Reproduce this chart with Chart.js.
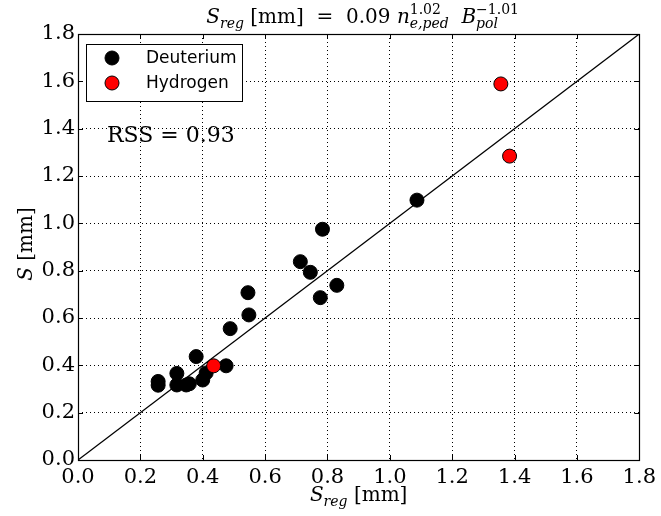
<!DOCTYPE html>
<html>
<head>
<meta charset="utf-8">
<script src="https://cdn.jsdelivr.net/npm/chart.js@4/dist/chart.umd.min.js"></script>
<style>
  body { margin: 0; background: #fff; }
  canvas { display: block; }
</style>
</head>
<body>
<canvas id="chart" width="661" height="516"></canvas>
<script>
/* Werte */
const deutX = [0.257, 0.257, 0.317, 0.317, 0.347, 0.357, 0.379, 0.400, 0.411, 0.475, 0.488, 0.545, 0.548, 0.713, 0.745, 0.777, 0.784, 0.830, 1.087];
const deutY = [0.316, 0.332, 0.366, 0.317, 0.317, 0.322, 0.437, 0.338, 0.368, 0.398, 0.555, 0.707, 0.613, 0.838, 0.793, 0.686, 0.975, 0.738, 1.098];
const hydX = [0.435, 1.356, 1.384];
const hydY = [0.398, 1.589, 1.284];
const diagLine = [0, 1.8];
const tickValues = [0, 0.2, 0.4, 0.6, 0.8, 1.0, 1.2, 1.4, 1.6, 1.8];
const seriesNames = ['Deuterium', 'Hydrogen'];
const rssText = 'RSS = 0.93';

const serif = '"DejaVu Serif", serif';
const sans = '"DejaVu Sans", sans-serif';

function toPoints(xs, ys) {
    return xs.map((x, i) => ({x: x, y: ys[i]}));
}

/* Text mit Hoch- und Tiefstellung Stück für Stück schreiben */
function drawParts(ctx, parts, x, y, measureOnly) {
    let cx = x;
    for (const p of parts) {
        if (p.sup !== undefined || p.sub !== undefined) {
            let w1 = 0, w2 = 0;
            if (p.sup !== undefined) {
                ctx.font = '14px ' + serif;
                w1 = ctx.measureText(p.sup).width;
                if (!measureOnly) ctx.fillText(p.sup, cx, y - 9);
            }
            if (p.sub !== undefined) {
                ctx.font = 'italic 14px ' + serif;
                w2 = ctx.measureText(p.sub).width;
                if (!measureOnly) ctx.fillText(p.sub, cx, y + 5);
            }
            cx += Math.max(w1, w2);
        } else {
            ctx.font = (p.it ? 'italic ' : '') + '20px ' + serif;
            if (!measureOnly) ctx.fillText(p.t, cx, y);
            cx += ctx.measureText(p.t).width;
        }
    }
    return cx - x;
}

const decorPlugin = {
    id: 'decor',
    beforeDatasetsDraw(chart) {
        /* Rahmen-Ticks nach innen */
        const ctx = chart.ctx;
        const a = chart.chartArea;
        const xs = chart.scales.x, ys = chart.scales.y;
        ctx.save();
        ctx.strokeStyle = '#000';
        ctx.lineWidth = 1;
        ctx.beginPath();
        for (const v of tickValues) {
            const px = Math.round(xs.getPixelForValue(v)) + 0.5;
            const py = Math.round(ys.getPixelForValue(v)) + 0.5;
            ctx.moveTo(px, a.bottom); ctx.lineTo(px, a.bottom - 5);
            ctx.moveTo(px, a.top); ctx.lineTo(px, a.top + 5);
            ctx.moveTo(a.left, py); ctx.lineTo(a.left + 5, py);
            ctx.moveTo(a.right, py); ctx.lineTo(a.right - 5, py);
        }
        ctx.stroke();
        ctx.restore();
    },
    afterDraw(chart) {
        const ctx = chart.ctx;
        const a = chart.chartArea;
        ctx.save();
        ctx.strokeStyle = '#000';
        ctx.lineWidth = 1.2;
        ctx.strokeRect(Math.round(a.left) + 0.5, Math.round(a.top) + 0.5,
                       Math.round(a.right - a.left), Math.round(a.bottom - a.top));

        ctx.fillStyle = '#000';
        ctx.textAlign = 'left';
        ctx.textBaseline = 'alphabetic';

        /* Titel */
        const titleParts = [
            {t: 'S', it: true}, {sub: 'reg'}, {t: ' [mm]  =  0.09 '},
            {t: 'n', it: true}, {sup: '1.02', sub: 'e,ped'}, {t: '  '},
            {t: 'B', it: true}, {sup: '\u22121.01', sub: 'pol'}
        ];
        const tw = drawParts(ctx, titleParts, 0, 0, true);
        const cxm = (a.left + a.right) / 2;
        drawParts(ctx, titleParts, cxm - tw / 2 + 4, 23, false);

        /* x-Achsentitel */
        const xParts = [{t: 'S', it: true}, {sub: 'reg'}, {t: ' [mm]'}];
        const xw = drawParts(ctx, xParts, 0, 0, true);
        drawParts(ctx, xParts, cxm - xw / 2, 501, false);

        /* y-Achsentitel */
        const yParts = [{t: 'S', it: true}, {t: ' [mm]'}];
        const yw = drawParts(ctx, yParts, 0, 0, true);
        ctx.save();
        ctx.translate(32, (a.top + a.bottom) / 2 - 3);
        ctx.rotate(-Math.PI / 2);
        drawParts(ctx, yParts, -yw / 2, 0, false);
        ctx.restore();

        /* Legende */
        ctx.fillStyle = '#fff';
        ctx.fillRect(86.5, 44.5, 156, 57);
        ctx.strokeStyle = '#000';
        ctx.lineWidth = 1;
        ctx.strokeRect(86.5, 44.5, 156, 57);
        const colors = ['#000', '#ff0000'];
        ctx.font = '17px ' + sans;
        ctx.textBaseline = 'middle';
        seriesNames.forEach((name, i) => {
            const y = 58 + i * 25;
            ctx.beginPath();
            ctx.arc(112, y, 7, 0, Math.PI * 2);
            ctx.fillStyle = colors[i];
            ctx.fill();
            ctx.strokeStyle = '#000';
            ctx.stroke();
            ctx.fillStyle = '#000';
            ctx.fillText(name, 146, y + 1);
        });

        /* RSS-Text */
        ctx.textBaseline = 'alphabetic';
        ctx.font = '22px ' + serif;
        ctx.fillText(rssText, 107, 142);
        ctx.restore();
    }
};

function axisOptions(isX) {
    return {
        type: 'linear',
        min: 0,
        max: 1.8,
        afterBuildTicks(scale) {
            scale.ticks = tickValues.map(v => ({value: v}));
        },
        afterFit(scale) {
            if (isX) scale.height = 56;
            else scale.width = 78;
        },
        grid: {
            display: true,
            color: '#000',
            lineWidth: 1,
            drawTicks: false
        },
        border: {
            display: false,
            dash: [1, 3]
        },
        ticks: {
            color: '#000',
            font: {family: serif, size: 21},
            padding: isX ? 5 : 3,
            maxRotation: 0,
            autoSkip: false,
            callback: v => Number(v).toFixed(1)
        }
    };
}

const ctx = document.getElementById('chart').getContext('2d');
new Chart(ctx, {
    type: 'scatter',
    data: {
        datasets: [
            {
                label: seriesNames[1],
                data: toPoints(hydX, hydY),
                backgroundColor: '#ff0000',
                borderColor: '#000',
                borderWidth: 1,
                pointRadius: 7,
                order: 0
            },
            {
                label: seriesNames[0],
                data: toPoints(deutX, deutY),
                backgroundColor: '#000',
                borderColor: '#000',
                borderWidth: 1,
                pointRadius: 7,
                order: 1
            },
            {
                type: 'line',
                label: 'y = x',
                data: toPoints(diagLine, diagLine),
                borderColor: '#000',
                borderWidth: 1.3,
                pointRadius: 0,
                fill: false,
                order: 2
            }
        ]
    },
    options: {
        responsive: false,
        animation: false,
        devicePixelRatio: 1,
        layout: {padding: {top: 34, right: 20, left: 0, bottom: 0}},
        plugins: {
            legend: {display: false},
            tooltip: {enabled: false},
            title: {display: false}
        },
        scales: {
            x: axisOptions(true),
            y: axisOptions(false)
        }
    },
    plugins: [decorPlugin]
});
</script>
</body>
</html>
